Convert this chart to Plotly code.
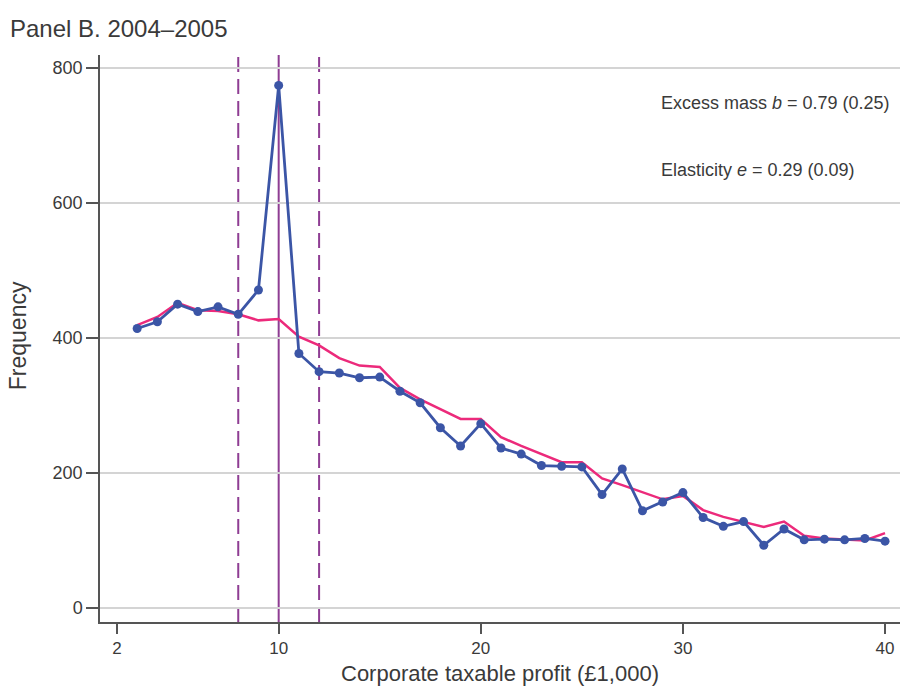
import plotly.graph_objects as go

# Bunching around the £10,000 kink, 2004–2005
profit_bins = list(range(3, 41))
observed = [414, 424, 450, 439, 446, 435, 471, 774, 377, 350, 348, 341, 342, 321,
            304, 267, 240, 273, 237, 228, 211, 210, 209, 168, 206, 144, 157, 171,
            134, 121, 128, 93, 117, 101, 102, 101, 103, 99]
counterfactual = [419, 431, 452, 441, 440, 435, 426, 428, 402, 389, 370, 359, 357, 326,
                  309, 294, 280, 280, 253, 240, 228, 216, 216, 192, 182, 171, 161, 166,
                  145, 135, 128, 120, 128, 107, 103, 101, 100, 111]
kink = 10
window_lo, window_hi = 8, 12

x_ticks = [2, 10, 20, 30, 40]
y_ticks = [0, 200, 400, 600, 800]

font_family = "Liberation Sans, Arial, sans-serif"
text_color = "#3a3a3a"
purple = "#8e3d93"

fig = go.Figure()

fig.add_trace(go.Scatter(
    x=profit_bins, y=counterfactual, mode="lines",
    line=dict(color="#ec2a7b", width=2.5), hoverinfo="skip", showlegend=False,
))
fig.add_trace(go.Scatter(
    x=profit_bins, y=observed, mode="lines+markers",
    line=dict(color="#3b55a6", width=2.8),
    marker=dict(color="#3b55a6", size=9),
    showlegend=False,
))

# Kink and the excluded window around it
fig.add_shape(type="line", xref="x", yref="paper", x0=kink, x1=kink, y0=0, y1=1,
              line=dict(color=purple, width=2), layer="below")
for xv in (window_lo, window_hi):
    fig.add_shape(type="line", xref="x", yref="paper", x0=xv, x1=xv, y0=0, y1=1,
                  line=dict(color=purple, width=2, dash="15px,7px"), layer="below")

fig.add_annotation(x=28.8, y=748, xref="x", yref="y", xanchor="left", yanchor="middle",
                   text="Excess mass <i>b</i> = 0.79 (0.25)", showarrow=False,
                   font=dict(family=font_family, size=18, color=text_color))
fig.add_annotation(x=28.8, y=649, xref="x", yref="y", xanchor="left", yanchor="middle",
                   text="Elasticity <i>e</i> = 0.29 (0.09)", showarrow=False,
                   font=dict(family=font_family, size=18, color=text_color))

# Axis titles
fig.add_annotation(x=0.5, y=0, xref="paper", yref="paper", xanchor="center",
                   yanchor="middle", yshift=-51, showarrow=False,
                   text="Corporate taxable profit (£1,000)",
                   font=dict(family=font_family, size=22, color=text_color))
fig.add_annotation(x=0, y=0.504, xref="paper", yref="paper", xanchor="center",
                   yanchor="middle", xshift=-82, textangle=-90, showarrow=False,
                   text="Frequency",
                   font=dict(family=font_family, size=23, color=text_color))

fig.update_layout(
    width=901, height=686,
    margin=dict(l=100, r=1, t=55, b=64),
    paper_bgcolor="white", plot_bgcolor="white",
    font=dict(family=font_family, color=text_color),
    title=dict(text="Panel B. 2004–2005", xref="container", yref="container",
               x=10 / 901, xanchor="left", y=1 - 29 / 686, yanchor="middle",
               font=dict(family=font_family, size=24, color=text_color)),
)
fig.update_xaxes(
    range=[1.16, 40.74], tickvals=x_ticks, ticktext=[str(v) for v in x_ticks],
    showgrid=False, zeroline=False, showline=True, linecolor="#555", linewidth=1.5,
    ticks="outside", ticklen=10, tickwidth=1.5, tickcolor="#555",
    tickfont=dict(size=17, color=text_color), automargin=False,
)
fig.update_yaxes(
    range=[-20.7, 819], tickvals=y_ticks,
    showgrid=True, gridcolor="#d4d4d4", gridwidth=1.5, zeroline=False,
    showline=True, linecolor="#555", linewidth=1.5,
    ticks="outside", ticklen=12, tickwidth=1.5, tickcolor="#555",
    tickfont=dict(size=18, color=text_color), automargin=False,
)

fig.write_html("out.html")
